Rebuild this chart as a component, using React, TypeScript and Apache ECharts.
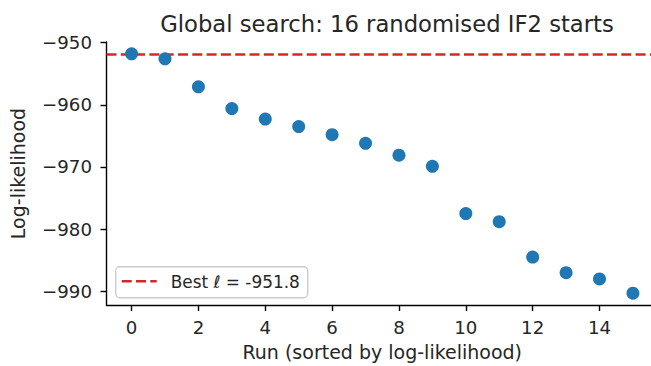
import React, { useEffect, useRef } from "react";
import * as echarts from "echarts";

const runs: number[] = [0, 1, 2, 3, 4, 5, 6, 7, 8, 9, 10, 11, 12, 13, 14, 15];
const logLik: number[] = [
  -951.8, -952.6, -957.1, -960.6, -962.3, -963.5, -964.8, -966.2,
  -968.1, -969.9, -977.5, -978.8, -984.5, -987.0, -988.0, -990.3,
];
const xTicks: number[] = [0, 2, 4, 6, 8, 10, 12, 14];
const yTicks: number[] = [-990, -980, -970, -960, -950];
const titleText = "Global search: 16 randomised IF2 starts";
const xName = "Run (sorted by log-likelihood)";
const yName = "Log-likelihood";

const FONT = "DejaVu Sans";
const TXT = "#262626";

export default function App() {
  const ref = useRef<HTMLDivElement>(null);
  useEffect(() => {
    if (!ref.current) return;
    const chart = echarts.init(ref.current, null, { renderer: "svg" });
    const best = Math.max(...logLik);
    const fmt = (v: number) => (v < 0 ? "\u2212" + Math.abs(v) : String(v));
    const gridLeft = 106.5;
    const gridTop = 42;
    const gridW = 551.5;
    const gridH = 263;
    chart.setOption({
      animation: false,
      textStyle: { fontFamily: FONT },
      title: {
        text: titleText,
        left: 382,
        textAlign: "center",
        top: 7,
        textStyle: { fontFamily: FONT, fontSize: 22.7, fontWeight: "normal", color: TXT },
      },
      grid: {
        left: gridLeft,
        top: gridTop,
        width: gridW,
        height: gridH,
        containLabel: false,
        outerBoundsMode: "none",
      },
      xAxis: {
        type: "value",
        min: -0.75,
        max: 15.75,
        name: xName,
        nameLocation: "middle",
        nameGap: 37,
        nameTextStyle: { fontFamily: FONT, fontSize: 19, color: TXT },
        axisLine: { show: true, onZero: false, lineStyle: { color: "#000", width: 1.4 } },
        axisTick: { show: true, length: 6, inside: false, customValues: xTicks, lineStyle: { color: "#000", width: 1.4 } },
        axisLabel: { customValues: xTicks, margin: 13, fontFamily: FONT, fontSize: 18.2, color: TXT, formatter: fmt },
        splitLine: { show: false },
      },
      yAxis: {
        type: "value",
        min: -992.2,
        max: -949.9,
        name: yName,
        nameLocation: "middle",
        nameGap: 79,
        nameRotate: 90,
        nameTextStyle: { fontFamily: FONT, fontSize: 19, color: TXT },
        axisLine: { show: true, onZero: false, lineStyle: { color: "#000", width: 1.4 } },
        axisTick: { show: true, length: 6, inside: false, customValues: yTicks, lineStyle: { color: "#000", width: 1.4 } },
        axisLabel: { customValues: yTicks, margin: 14.5, fontFamily: FONT, fontSize: 18.2, color: TXT, formatter: fmt },
        splitLine: { show: false },
      },
      series: [
        {
          type: "scatter",
          data: runs.map((r, i) => [r, logLik[i]]),
          symbol: "circle",
          symbolSize: 13,
          itemStyle: { color: "#1f77b4", opacity: 1 },
          z: 3,
          markLine: {
            silent: true,
            symbol: ["none", "none"],
            label: { show: false },
            lineStyle: { color: "#d62728", type: [10, 4.3], width: 2.6 },
            data: [{ yAxis: best }],
            z: 2,
          },
        },
      ],
      graphic: [
        {
          type: "group",
          left: 115,
          top: 266,
          children: [
            {
              type: "rect",
              shape: { x: 0, y: 0, width: 192, height: 31, r: 4 },
              style: { fill: "rgba(255,255,255,0.8)", stroke: "#cccccc", lineWidth: 1.4 },
            },
            {
              type: "line",
              shape: { x1: 6, y1: 14.5, x2: 41, y2: 14.5 },
              style: { stroke: "#d62728", lineWidth: 2.6, lineDash: [10, 4.3] },
            },
            {
              type: "text",
              x: 55,
              y: 15,
              style: {
                text: "Best {i|\u2113} = " + best.toFixed(1),
                fontFamily: FONT,
                fontSize: 16.9,
                fill: TXT,
                verticalAlign: "middle",
                rich: { i: { fontStyle: "italic", fontFamily: FONT, fontSize: 16.9, fill: TXT } },
              },
            },
          ],
        },
      ],
    });
    return () => chart.dispose();
  }, []);
  return (
    <div style={{ width: 651, height: 366, position: "absolute", left: 0, top: 0, overflow: "hidden" }}>
      <div ref={ref} style={{ width: 662, height: 366 }} />
    </div>
  );
}
